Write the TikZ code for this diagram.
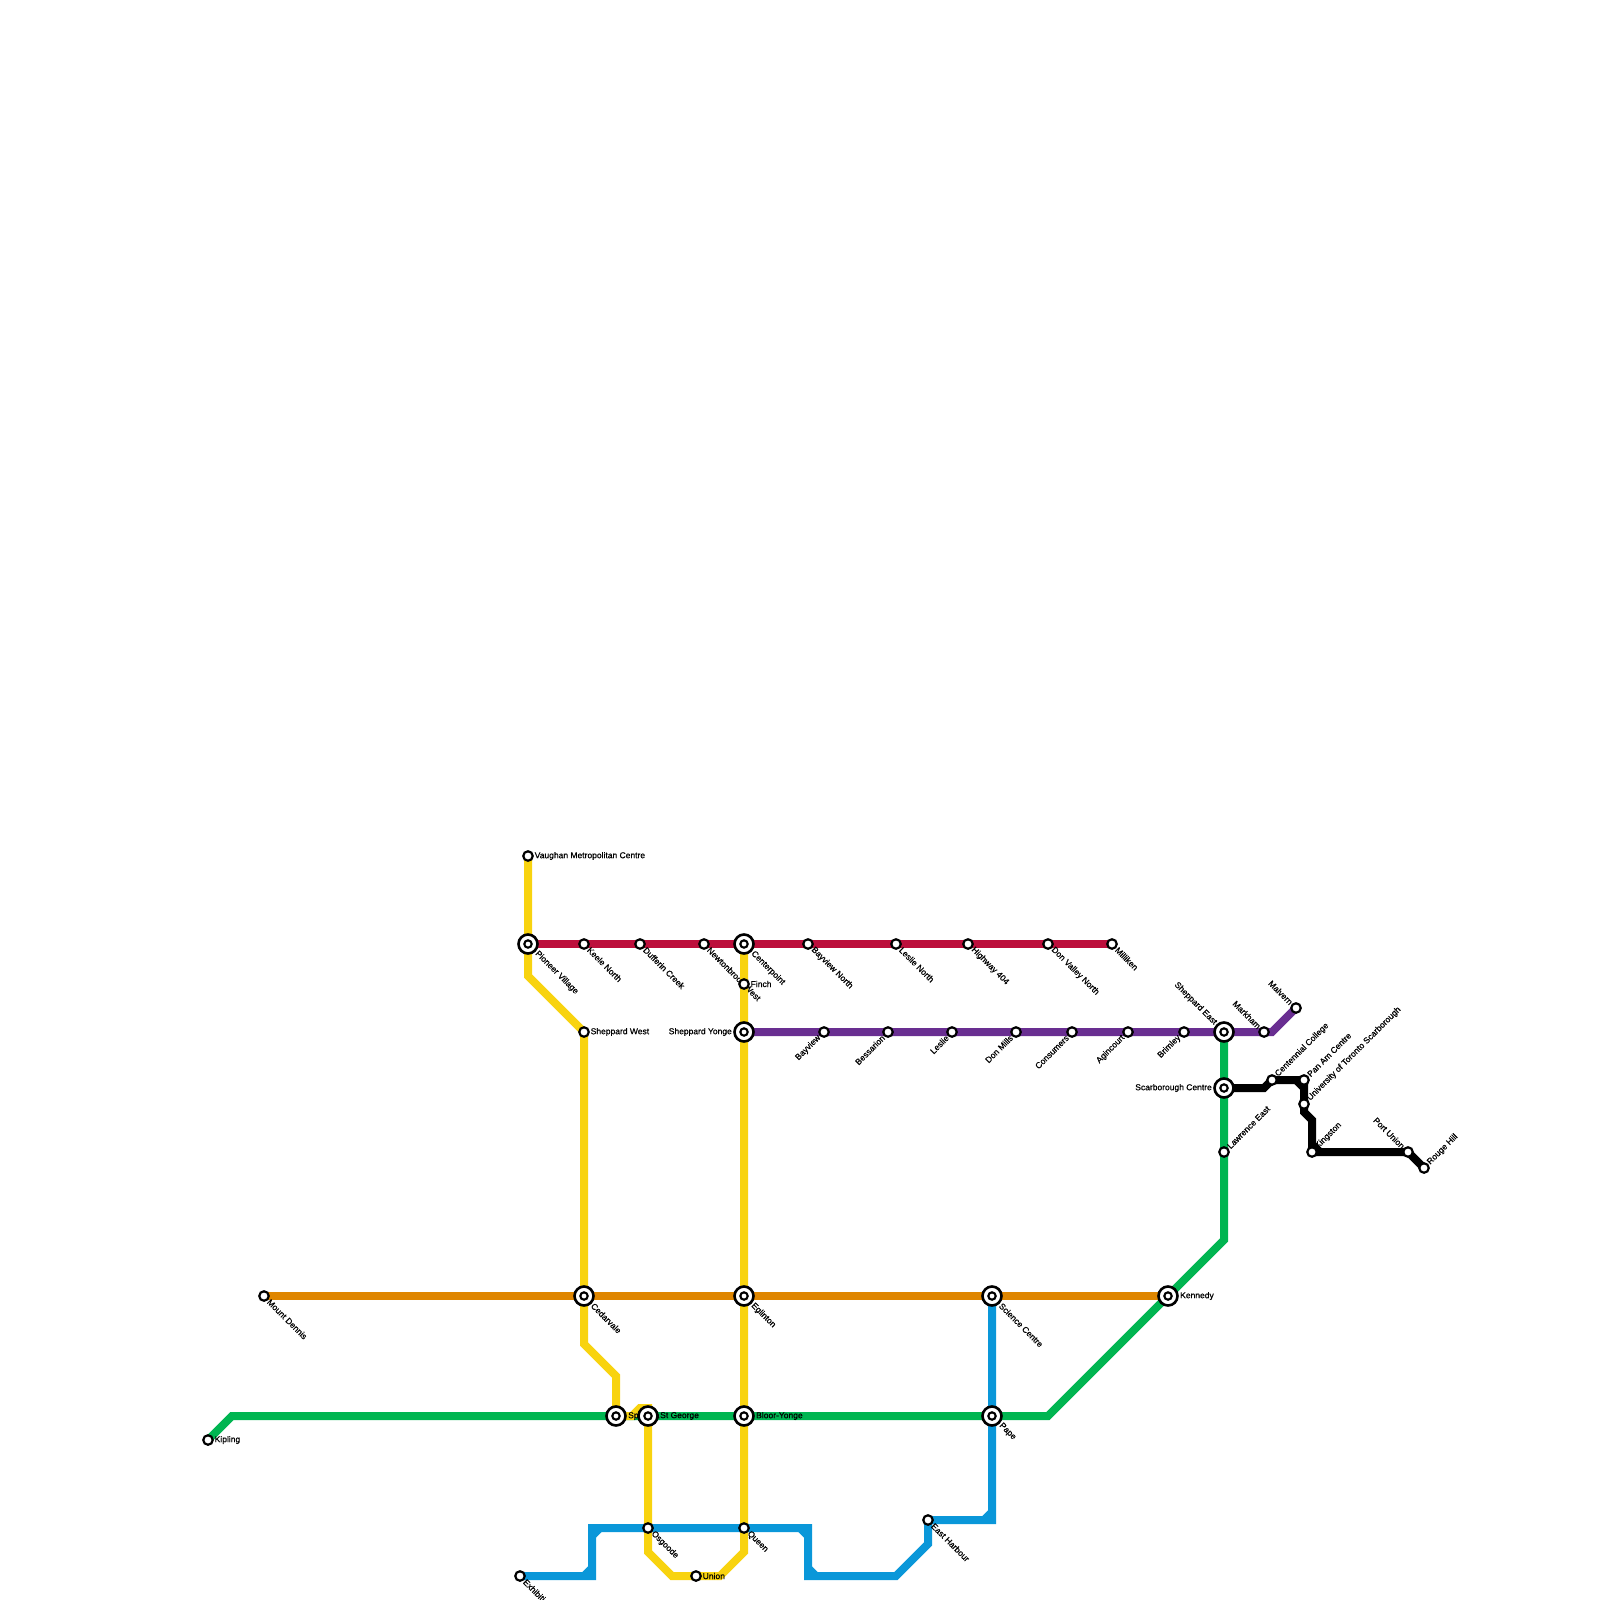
\documentclass[tikz,border=0pt]{standalone}
\usepackage{fontspec}
\setmainfont{Liberation Sans}[FakeBold=0.7]
\usetikzlibrary{calc}
\definecolor{lineyellow}{HTML}{F8D30F}
\definecolor{linered}{HTML}{BC0F3C}
\definecolor{lineorange}{HTML}{DF8600}
\definecolor{linegreen}{HTML}{00B551}
\definecolor{lineblue}{HTML}{0A97D9}
\definecolor{linepurple}{HTML}{692E91}
\tikzset{
  metro/.style={line width=8pt},
  stn/.style={circle,draw=black,fill=white,line width=2.2pt,minimum size=9.5pt,inner sep=0pt},
  hub/.style={circle,draw=black,fill=white,line width=2.6pt,minimum size=19pt,inner sep=0pt,
    path picture={\draw[line width=2.1pt] (path picture bounding box.center) circle (3.7pt);}},
  lbl/.style={font=\fontsize{8.5}{10}\selectfont,inner sep=0pt,text=black},
  lble/.style={lbl,shift={(\lbld,0)},anchor=west},
  lblw/.style={lbl,shift={(-\lbld,0)},anchor=east},
  lblse/.style={lbl,shift={(\lbld*0.7,\lbld*0.7)},rotate=-45,anchor=west},
  lblne/.style={lbl,shift={(\lbld*0.7,-\lbld*0.7)},rotate=45,anchor=west},
  lblnw/.style={lbl,shift={(-\lbld*0.7,-\lbld*0.7)},rotate=-45,anchor=east},
  lblsw/.style={lbl,shift={(-\lbld*0.7,\lbld*0.7)},rotate=45,anchor=east},
}
\begin{document}
\begin{tikzpicture}[x=1pt,y=-1pt]
  \clip (0,0) rectangle (1600,1600);
  % station positions
  \foreach \name/\x/\y in {vaughan/528/856,pioneer/528/944,keele/584/944,dufferin/640/944,
    newtonbrook/704/944,centerpoint/744/944,bayviewn/808/944,leslien/896/944,hwyfour/968/944,
    donvalley/1048/944,milliken/1112/944,finch/744/984,sheppardw/584/1032,sheppardy/744/1032,
    bayview/824/1032,bessarion/888/1032,leslie/952/1032,donmills/1016/1032,consumers/1072/1032,
    agincourt/1128/1032,brimley/1184/1032,shepparde/1224/1032,markham/1264/1032,malvern/1296/1008,
    scarborough/1224/1088,lawrence/1224/1152,centennial/1272/1080,panam/1304/1080,uoft/1304/1104,
    kingston/1312/1152,portunion/1408/1152,rougehill/1424/1168,mountdennis/264/1296,
    cedarvale/584/1296,eglinton/744/1296,science/992/1296,kennedy/1168/1296,kipling/208/1440,
    spadina/616/1416,stgeorge/648/1416,bloor/744/1416,pape/992/1416,exhibition/520/1576,
    osgoode/648/1528,queen/744/1528,union/696/1576,eastharbour/928/1520}{
    \coordinate (\name) at (\x,\y);
  }
  % bends
  \foreach \name/\x/\y in {ya/528/976,yb/584/1344,yc/616/1376,yd/632/1416,ye/640/1408,yf/648/1408,
    yg/648/1552,yh/672/1576,yi/720/1576,yj/744/1552,ga/232/1416,gb/1048/1416,gc/1224/1240,
    ba/592/1576,bb/592/1528,bc/808/1528,bd/808/1576,be/896/1576,bf/928/1544,bg/992/1520,
    pa/1272/1032,ka/1264/1088,kb/1304/1112,kc/1312/1120}{
    \coordinate (\name) at (\x,\y);
  }
  % Line 5 and the label that Line 1 runs over
  \draw[metro,linered] (pioneer) -- (keele) -- (dufferin) -- (newtonbrook) -- (centerpoint) -- (bayviewn)
    -- (leslien) -- (hwyfour) -- (donvalley) -- (milliken);
  \def\lbld{6.5}
  \node[lblse] (newtonbrook-t) at (newtonbrook) {Newtonbrook West};
  % Line 2
  \draw[metro,linegreen] (kipling) -- (ga) -- (spadina) -- (stgeorge) -- (bloor) -- (pape) -- (gb)
    -- (kennedy) -- (gc) -- (lawrence) -- (scarborough) -- (shepparde);
  % Line 1
  \draw[metro,lineyellow] (vaughan) -- (pioneer) -- (ya) -- (sheppardw) -- (cedarvale) -- (yb) -- (yc)
    -- (spadina) -- (yd) -- (ye) -- (yf) -- (stgeorge) -- (osgoode) -- (yg) -- (yh) -- (union) -- (yi)
    -- (yj) -- (queen) -- (bloor) -- (eglinton) -- (sheppardy) -- (finch) -- (centerpoint);
  % Line 6
  \draw[metro,lineorange] (mountdennis) -- (cedarvale) -- (eglinton) -- (science) -- (kennedy);
  % Line 3
  \draw[metro,lineblue] (exhibition) -- (ba) -- (bb) -- (osgoode) -- (queen) -- (bc) -- (bd) -- (be)
    -- (bf) -- (eastharbour) -- (bg) -- (pape) -- (science);
  \foreach \cx/\ox/\oy/\qx/\qy in {ba/-8/0/0/-8,bb/0/8/8/0,bc/-8/0/0/8,bd/0/-8/8/0,bg/-8/0/0/-8}{
    \draw[metro,lineblue] ($(\cx)+(\ox,\oy)$) -- ($(\cx)+(\qx,\qy)$);
  }
  % Line 4
  \draw[metro,linepurple] (sheppardy) -- (bayview) -- (bessarion) -- (leslie) -- (donmills) -- (consumers)
    -- (agincourt) -- (brimley) -- (shepparde) -- (markham) -- (pa) -- (malvern);
  % Line 7
  \draw[metro,black] (scarborough) -- (ka) -- (centennial) -- (panam) -- (uoft) -- (kb) -- (kc)
    -- (kingston) -- (portunion) -- (rougehill);
  \draw[metro,black] ($(panam)+(-8,0)$) -- ($(panam)+(0,8)$);
  \draw[metro,black] ($(kingston)+(0,-8)$) -- ($(kingston)+(8,0)$);
  % plain stops
  \foreach \name/\side/\txt in {vaughan/lble/Vaughan Metropolitan Centre,keele/lblse/Keele North,
    dufferin/lblse/Dufferin Creek,bayviewn/lblse/Bayview North,leslien/lblse/Leslie North,
    hwyfour/lblse/Highway 404,donvalley/lblse/Don Valley North,milliken/lblse/Milliken,
    sheppardw/lble/Sheppard West,bayview/lblsw/Bayview,bessarion/lblsw/Bessarion,leslie/lblsw/Leslie,
    donmills/lblsw/Don Mills,consumers/lblsw/Consumers,agincourt/lblsw/Agincourt,brimley/lblsw/Brimley,
    markham/lblnw/Markham,malvern/lblnw/Malvern,lawrence/lblne/Lawrence East,
    centennial/lblne/Centennial College,panam/lblne/Pan Am Centre,uoft/lblne/University of Toronto Scarborough,
    kingston/lblne/Kingston,portunion/lblnw/Port Union,rougehill/lblne/Rouge Hill,
    mountdennis/lblse/Mount Dennis,kipling/lble/Kipling,exhibition/lblse/Exhibition,
    osgoode/lblse/Osgoode,queen/lblse/Queen,union/lble/Union,eastharbour/lblse/East Harbour,finch/lble/Finch}{
    \node[\side] (\name-t) at (\name) {\txt};
    \node[stn] (\name) at (\name) {};
  }
  \node[stn] (newtonbrook) at (newtonbrook) {};
  % interchanges
  \def\lbld{12}
  \foreach \name/\side/\txt in {pioneer/lblse/Pioneer Village,centerpoint/lblse/Centerpoint,
    sheppardy/lblw/Sheppard Yonge,shepparde/lblnw/Sheppard East,scarborough/lblw/Scarborough Centre,
    cedarvale/lblse/Cedarvale,eglinton/lblse/Eglinton,science/lblse/Science Centre,kennedy/lble/Kennedy,
    spadina/lble/Spadina,stgeorge/lble/St George,bloor/lble/Bloor-Yonge,pape/lblse/Pape}{
    \node[\side] (\name-t) at (\name) {\txt};
    \node[hub] (\name) at (\name) {};
  }
\end{tikzpicture}
\end{document}
